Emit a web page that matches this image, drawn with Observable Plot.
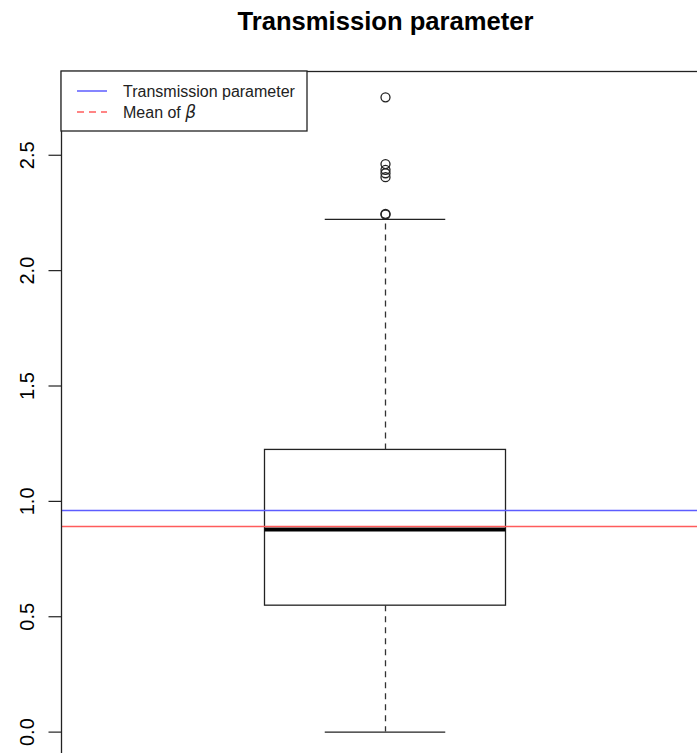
<!DOCTYPE html>
<html>
<head>
<meta charset="utf-8">
<script src="https://cdn.jsdelivr.net/npm/d3@7"></script>
<script src="https://cdn.jsdelivr.net/npm/@observablehq/plot@0.6"></script>
<style>
  html, body { margin: 0; padding: 0; background: white; }
  #chart svg { display: block; }
</style>
</head>
<body>
<div id="chart"></div>
<script>
// Summary of the posterior draws of the transmission parameter (beta)
const titleText = "Transmission parameter";
const boxPositions = [1];
const lowerWhisker = [0.0];
const lowerQuartile = [0.548];
const medianValue = [0.878];
const upperQuartile = [1.223];
const upperWhisker = [2.222];
const outlierValues = [2.751, 2.462, 2.437, 2.422, 2.405, 2.246, 2.243];
const trueBeta = [0.960];
const meanBeta = [0.891];
const yTicks = [0, 0.5, 1, 1.5, 2, 2.5];
const legendLabels = ["Transmission parameter", "Mean of "];

const boxes = boxPositions.map((pos, i) => ({
  pos,
  lo: lowerWhisker[i],
  q1: lowerQuartile[i],
  med: medianValue[i],
  q3: upperQuartile[i],
  hi: upperWhisker[i]
}));
const outliers = outlierValues.map(v => ({pos: boxPositions[0], value: v}));

const halfBox = 0.4;
const halfCap = 0.2;
const blue = "#5c5cff";
const red = "#ff5c5c";

// Legend drawn in the top-left corner of the plot frame
function legend(index, scales, values, dim) {
  const g = d3.create("svg:g");
  const x0 = dim.marginLeft, y0 = dim.marginTop;
  g.append("rect")
    .attr("x", x0).attr("y", y0).attr("width", 246).attr("height", 60)
    .attr("fill", "white").attr("stroke", "#222").attr("stroke-width", 1.3);
  const rows = [
    {color: blue, dash: null, y: 20, label: legendLabels[0]},
    {color: red, dash: "7,5", y: 41, label: legendLabels[1]}
  ];
  rows.forEach((r, i) => {
    g.append("line")
      .attr("x1", x0 + 16).attr("x2", x0 + 46)
      .attr("y1", y0 + r.y).attr("y2", y0 + r.y)
      .attr("stroke", r.color).attr("stroke-width", 1.5)
      .attr("stroke-dasharray", r.dash);
    const t = g.append("text")
      .attr("x", x0 + 62).attr("y", y0 + r.y + 5.8)
      .attr("text-anchor", "start")
      .attr("font-size", 16)
      .attr("fill", "#222")
      .text(r.label);
    if (i === 1) {
      t.append("tspan").attr("font-style", "italic")
        .attr("font-family", "'DejaVu Sans', sans-serif").attr("font-size", 17).text("β");
    }
  });
  return g.node();
}

const chart = Plot.plot({
  width: 697,
  height: 753,
  marginLeft: 61,
  marginTop: 71,
  marginRight: -12,
  marginBottom: -4,
  style: {fontFamily: "'Liberation Sans', Arial, sans-serif", fontSize: "20px", color: "black", background: "white"},
  x: {domain: [-0.0755, 2.0755], axis: null},
  y: {domain: [-0.11, 2.863]},
  marks: [
    // box
    Plot.rect(boxes, {x1: d => d.pos - halfBox, x2: d => d.pos + halfBox, y1: "q1", y2: "q3", fill: "none", stroke: "#222", strokeWidth: 1.3}),
    // whiskers
    Plot.ruleX(boxes, {x: "pos", y1: "q3", y2: "hi", stroke: "#333", strokeWidth: 1.3, strokeDasharray: "6,5"}),
    Plot.ruleX(boxes, {x: "pos", y1: "q1", y2: "lo", stroke: "#333", strokeWidth: 1.3, strokeDasharray: "6,5"}),
    // whisker caps
    Plot.ruleY(boxes, {y: "hi", x1: d => d.pos - halfCap, x2: d => d.pos + halfCap, stroke: "#222", strokeWidth: 1.3}),
    Plot.ruleY(boxes, {y: "lo", x1: d => d.pos - halfCap, x2: d => d.pos + halfCap, stroke: "#222", strokeWidth: 1.3}),
    // outliers
    Plot.dot(outliers, {x: "pos", y: "value", r: 4.5, stroke: "#222", strokeWidth: 1.3, fill: "none"}),
    // median
    Plot.ruleY(boxes, {y: "med", x1: d => d.pos - halfBox, x2: d => d.pos + halfBox, stroke: "black", strokeWidth: 4}),
    // reference lines
    Plot.ruleY(trueBeta, {stroke: blue, strokeWidth: 1.5}),
    Plot.ruleY(meanBeta, {stroke: red, strokeWidth: 1.5}),
    Plot.frame({stroke: "#222", strokeWidth: 1.3}),
    Plot.axisY(yTicks, {
      tickSize: 12.5, tickRotate: -90, tickPadding: 15.5, fontSize: 20,
      tickFormat: d3.format(".1f"), label: null, stroke: "#222", strokeWidth: 1.2
    }),
    Plot.text([titleText], {frameAnchor: "top", dy: -41.5, lineAnchor: "bottom", fontWeight: "bold", fontSize: 25.6}),
    legend
  ]
});
document.getElementById("chart").appendChild(chart);
</script>
</body>
</html>
